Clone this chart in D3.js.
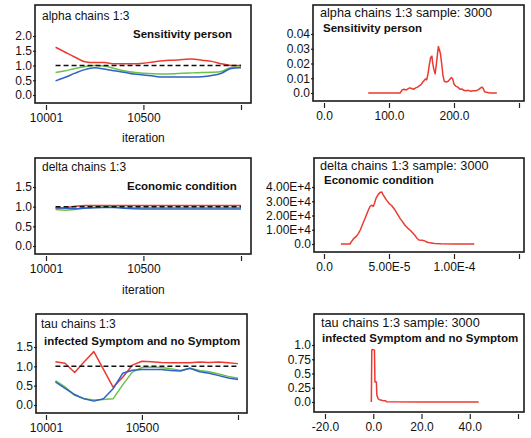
<!DOCTYPE html>
<html lang="en">
<head>
<meta charset="UTF-8">
<title>Chains trace and density</title>
<script src="https://d3js.org/d3.v7.min.js"></script>
<style>
  body { margin: 0; background: #fff; }
  svg { display: block; font-family: "Liberation Sans", Arial, sans-serif; }
  .frame { fill: none; stroke: #1a1a1a; stroke-width: 1.6px; }
  .axis text { font-size: 12px; fill: #111; }
  .axis line { stroke: #222; stroke-width: 1.2px; }
  .title { font-size: 12px; fill: #111; }
  .title.wide { font-size: 12.7px; }
  .sub { font-size: 11.5px; font-weight: bold; fill: #111; }
  .line { fill: none; stroke-width: 1.5px; stroke-linejoin: round; }
  .ref { stroke: #111; stroke-width: 1.5px; stroke-dasharray: 5,3; }
</style>
</head>
<body>
<svg id="chart" width="531" height="438"></svg>
<script>
// ---- data ----
const iterations = [10050, 10100, 10150, 10200, 10250, 10300, 10350, 10400, 10450, 10500,
                    10550, 10600, 10650, 10700, 10750, 10800, 10850, 10900, 10950, 11000];
const iterTicks = [10001, 10500, 11000];
const iterLabels = ["10001", "10500", ""];

const alphaRed   = [1.62, 1.45, 1.28, 1.13, 1.10, 1.10, 1.06, 1.06, 1.06, 1.08, 1.12, 1.16, 1.18, 1.20, 1.22, 1.18, 1.14, 1.06, 1.00, 1.00];
const alphaGreen = [0.76, 0.82, 0.90, 0.96, 1.00, 0.98, 0.90, 0.82, 0.77, 0.74, 0.72, 0.71, 0.72, 0.74, 0.75, 0.76, 0.77, 0.80, 0.93, 0.95];
const alphaBlue  = [0.48, 0.60, 0.74, 0.86, 0.92, 0.88, 0.82, 0.77, 0.71, 0.68, 0.64, 0.61, 0.61, 0.61, 0.61, 0.62, 0.66, 0.74, 0.90, 0.92];

const deltaRed   = [0.96, 0.97, 1.01, 1.03, 1.03, 1.03, 1.03, 1.03, 1.03, 1.03, 1.03, 1.03, 1.03, 1.03, 1.03, 1.03, 1.03, 1.03, 1.03, 1.03];
const deltaGreen = [0.93, 0.91, 0.93, 0.97, 0.98, 0.99, 0.99, 0.98, 0.97, 0.97, 0.97, 0.97, 0.97, 0.97, 0.97, 0.97, 0.97, 0.97, 0.97, 0.97];
const deltaBlue  = [0.97, 0.96, 0.95, 0.96, 0.97, 0.98, 0.98, 0.96, 0.95, 0.94, 0.94, 0.94, 0.94, 0.94, 0.94, 0.94, 0.94, 0.94, 0.94, 0.94];

const tauRed   = [1.12, 1.08, 0.84, 1.12, 1.38, 0.92, 0.46, 0.72, 1.03, 1.13, 1.12, 1.10, 1.09, 1.09, 1.09, 1.11, 1.10, 1.11, 1.09, 1.07];
const tauGreen = [0.63, 0.47, 0.25, 0.16, 0.13, 0.14, 0.16, 0.52, 0.85, 0.97, 0.98, 0.97, 0.94, 0.89, 0.95, 0.89, 0.86, 0.80, 0.74, 0.69];
const tauBlue  = [0.60, 0.43, 0.27, 0.16, 0.10, 0.16, 0.42, 0.82, 0.90, 0.92, 0.92, 0.92, 0.89, 0.88, 0.95, 0.86, 0.82, 0.76, 0.70, 0.66];

const alphaDensX = [68, 100, 117, 120, 123, 126, 129, 132, 135, 138, 141, 144, 147, 150, 152, 154, 156, 158, 160, 162, 164, 166, 167,
                    169, 171, 173, 175, 176, 177, 179, 181, 183, 185, 188, 191, 194, 196, 198, 200, 203, 206, 209, 212, 215, 218,
                    222, 226, 230, 234, 238, 241, 243, 245, 247, 250, 255, 266];
const alphaDensY = [0, 0, 0, 0.002, 0.0025, 0.002, 0.0028, 0.0035, 0.003, 0.0025, 0.0035, 0.004, 0.005, 0.006, 0.0075, 0.0085, 0.0095,
                    0.009, 0.013, 0.019, 0.024, 0.025, 0.021, 0.016, 0.013, 0.02, 0.028, 0.0315, 0.03, 0.027, 0.02, 0.012, 0.008,
                    0.0075, 0.008, 0.0095, 0.0105, 0.0095, 0.006, 0.0045, 0.004, 0.0025, 0.0028, 0.0018, 0.0015, 0.0018, 0.0012,
                    0.0015, 0.0015, 0.0025, 0.0035, 0.004, 0.003, 0.0008, 0.0005, 0, 0];

const deltaDensX = [1.3e-5, 2.0e-5, 2.1e-5, 2.3e-5, 2.5e-5, 2.65e-5, 2.8e-5, 3.0e-5, 3.2e-5, 3.4e-5, 3.55e-5, 3.65e-5, 3.8e-5, 3.9e-5,
                    4.0e-5, 4.15e-5, 4.3e-5, 4.45e-5, 4.55e-5, 4.65e-5, 4.8e-5, 5.0e-5, 5.2e-5, 5.45e-5, 5.65e-5, 5.85e-5, 6.05e-5,
                    6.25e-5, 6.45e-5, 6.65e-5, 6.85e-5, 7.0e-5, 7.15e-5, 7.3e-5, 7.55e-5, 7.75e-5, 7.95e-5, 8.15e-5, 8.5e-5,
                    9.0e-5, 1.0e-4, 1.156e-4];
const deltaDensY = [0, 0, 1500, 4000, 5500, 7500, 10000, 14500, 19000, 23500, 26500, 27200, 26500, 29000, 32000, 34500, 36200, 36500,
                    34500, 33000, 31000, 28500, 27000, 24000, 21000, 18000, 15500, 13000, 11000, 9500, 7500, 6000, 4000, 2800,
                    2700, 2200, 1200, 800, 300, 100, 0, 0];

const tauDensX = [-0.8, -0.6, -0.4, 0.5, 0.7, 1.3, 1.5, 2.0, 2.6, 3.5, 4.5, 5.2, 5.5, 20, 43.7];
const tauDensY = [0, 0.91, 0.92, 0.91, 0.35, 0.35, 0.12, 0.06, 0.04, 0.03, 0.02, 0.02, 0.005, 0, 0];

const chainColors = ["#ec3a30", "#6cc248", "#2f62c6"];

const svg = d3.select("#chart");

function frame(g, b) {
  g.append("rect").attr("class", "frame")
    .attr("x", b[0]).attr("y", b[2])
    .attr("width", b[1] - b[0]).attr("height", b[3] - b[2]);
}

function axes(g, b, x, y, xt, xl, yt, yl) {
  g.append("g").attr("class", "axis")
    .attr("transform", `translate(${b[0] + 1},0)`)
    .call(d3.axisLeft(y).tickValues(yt).tickSize(3).tickPadding(1)
      .tickFormat((d, i) => yl[i]))
    .call(a => a.select(".domain").remove());
  g.append("g").attr("class", "axis")
    .attr("transform", `translate(0,${b[3] + 2})`)
    .call(d3.axisBottom(x).tickValues(xt).tickSize(5).tickPadding(3)
      .tickFormat((d, i) => xl[i]))
    .call(a => a.select(".domain").remove());
}

function labels(g, c, wide) {
  g.append("text").attr("class", wide ? "title wide" : "title")
    .attr("x", c.title[1]).attr("y", c.title[2]).text(c.title[0]);
  g.append("text").attr("class", "sub").attr("x", c.sub[1]).attr("y", c.sub[2]).text(c.sub[0]);
}

function tracePanel(c) {
  const g = svg.append("g");
  const b = c.box;
  const x = d3.scaleLinear().domain([10001, 11000]).range(c.xr);
  const y = d3.scaleLinear().domain(c.yd).range(c.yr);
  frame(g, b);
  axes(g, b, x, y, iterTicks, iterLabels, c.yt, c.yl);
  labels(g, c, false);
  const line = d3.line().x((d, i) => x(iterations[i])).y(d => y(d)).curve(c.curve);
  c.series.forEach((s, k) => {
    g.append("path").attr("class", "line").attr("stroke", chainColors[k]).attr("d", line(s));
  });
  g.append("line").attr("class", "ref")
    .attr("x1", x(iterations[0])).attr("x2", x(iterations[iterations.length - 1]))
    .attr("y1", y(1)).attr("y2", y(1));
  if (c.xlab) {
    g.append("text").attr("class", "title").attr("text-anchor", "middle")
      .attr("x", x(10500)).attr("y", c.xlab).text("iteration");
  }
}

function densityPanel(c) {
  const g = svg.append("g");
  const b = c.box;
  const x = d3.scaleLinear().domain(c.xd).range(c.xr);
  const y = d3.scaleLinear().domain(c.yd).range(c.yr);
  frame(g, b);
  axes(g, b, x, y, c.xt, c.xl, c.yt, c.yl);
  labels(g, c, true);
  const line = d3.line().x((d, i) => x(c.xs[i])).y(d => y(d));
  g.append("path").attr("class", "line").attr("stroke", chainColors[0]).attr("d", line(c.ys));
}

tracePanel({
  box: [35, 251, 5, 103], xr: [46, 241], yd: [0, 2], yr: [95, 36],
  yt: [0, 0.5, 1, 1.5, 2], yl: ["0.0", "0.5", "1.0", "1.5", "2.0"],
  title: ["alpha chains 1:3", 42, 20], sub: ["Sensitivity person", 133, 38],
  series: [alphaRed, alphaGreen, alphaBlue], curve: d3.curveMonotoneX, xlab: 142
});
tracePanel({
  box: [35, 251, 158, 254], xr: [46, 241], yd: [0, 1.5], yr: [246, 187],
  yt: [0, 0.5, 1, 1.5], yl: ["0.0", "0.5", "1.0", "1.5"],
  title: ["delta chains 1:3", 42, 171], sub: ["Economic condition", 127, 190],
  series: [deltaRed, deltaGreen, deltaBlue], curve: d3.curveLinear, xlab: 294
});
tracePanel({
  box: [36, 247, 314, 413], xr: [46, 238], yd: [0, 1.5], yr: [405, 347],
  yt: [0, 0.5, 1, 1.5], yl: ["0.0", "0.5", "1.0", "1.5"],
  title: ["tau chains 1:3", 41, 328], sub: ["infected Symptom and no Symptom", 44, 345],
  series: [tauRed, tauGreen, tauBlue], curve: d3.curveLinear, xlab: null
});

densityPanel({
  box: [313, 524, 5, 101], xd: [0, 300], xr: [324, 519], yd: [0, 0.04], yr: [93, 34],
  xt: [0, 100, 200, 300], xl: ["0.0", "100.0", "200.0", ""],
  yt: [0, 0.01, 0.02, 0.03, 0.04], yl: ["0.0", "0.01", "0.02", "0.03", "0.04"],
  title: ["alpha chains 1:3 sample: 3000", 320, 17], sub: ["Sensitivity person", 323, 32],
  xs: alphaDensX, ys: alphaDensY
});
densityPanel({
  box: [314, 524, 158, 252], xd: [0, 1.5e-4], xr: [324, 519], yd: [0, 40000], yr: [244, 187],
  xt: [0, 5e-5, 1e-4, 1.5e-4], xl: ["0.0", "5.00E-5", "1.00E-4", ""],
  yt: [0, 10000, 20000, 30000, 40000], yl: ["0.0", "1.00E+4", "2.00E+4", "3.00E+4", "4.00E+4"],
  title: ["delta chains 1:3 sample: 3000", 320, 170], sub: ["Economic condition", 324, 184],
  xs: deltaDensX, ys: deltaDensY
});
densityPanel({
  box: [314, 524, 314, 412], xd: [-20, 60], xr: [325, 518], yd: [0, 1], yr: [402, 345],
  xt: [-20, 0, 20, 40, 60], xl: ["-20.0", "0.0", "20.0", "40.0", ""],
  yt: [0, 0.25, 0.5, 0.75, 1], yl: ["0.0", "0.25", "0.5", "0.75", "1.0"],
  title: ["tau chains 1:3 sample: 3000", 321, 327], sub: ["infected Symptom and no Symptom", 322, 342],
  xs: tauDensX, ys: tauDensY
});
</script>
</body>
</html>
